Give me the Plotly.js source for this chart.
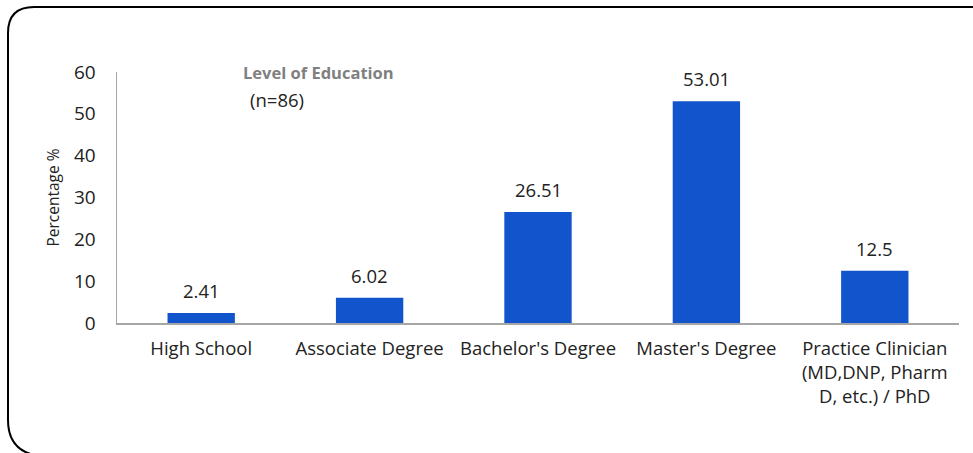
<!DOCTYPE html>
<html><head><meta charset="utf-8">
<script src="https://cdn.plot.ly/plotly-3.0.1.min.js"></script>
<style>html,body{margin:0;padding:0;background:#fff;}#chart{width:973px;height:453px;}</style>
</head><body><div id="chart"></div>
<script>
const categories = ["High School", "Associate Degree", "Bachelor's Degree", "Master's Degree", "Practice Clinician<br>(MD,DNP, Pharm<br>D, etc.) / PhD"];
const percentages = [2.41, 6.02, 26.51, 53.01, 12.5];
const valueLabels = ["2.41", "6.02", "26.51", "53.01", "12.5"];
const yTicks = [0, 10, 20, 30, 40, 50, 60];

const FONT = "'Open Sans', sans-serif";
const trace = {
  type: 'bar', x: categories, y: percentages,
  marker: {color: '#1254CC'}, hoverinfo: 'none'
};
const annotations = categories.map((c, i) => ({
  x: c, y: percentages[i], xref: 'x', yref: 'y', text: valueLabels[i],
  showarrow: false, yanchor: 'bottom', yshift: 8,
  font: {family: FONT, size: 18.5, color: '#222'}
}));
annotations.push({xref: 'paper', yref: 'paper', x: 0.239, y: 1.0, text: '<b>Level of Education</b>',
  showarrow: false, xanchor: 'center', yanchor: 'middle', font: {family: FONT, size: 16.5, color: '#808080'}});
annotations.push({xref: 'paper', yref: 'paper', x: 0.19, y: 0.89, text: '(n=86)',
  showarrow: false, xanchor: 'center', yanchor: 'middle', font: {family: FONT, size: 18.5, color: '#222'}});

// rounded frame (paper coords; plot area 842 x 251 px)
const px = v => (v - 117) / 842, py = v => (323 - v) / 251;
const framePath = `M ${px(34)} ${py(7)} L ${px(990)} ${py(7)} M ${px(8)} ${py(420)} L ${px(8)} ${py(33)} Q ${px(8)} ${py(7)} ${px(34)} ${py(7)} M ${px(8)} ${py(420)} Q ${px(8)} ${py(452)} ${px(40)} ${py(456)}`;

const layout = {
  width: 973, height: 453,
  margin: {l: 117, r: 14, t: 72, b: 130},
  paper_bgcolor: '#fff', plot_bgcolor: '#fff',
  bargap: 0.6, showlegend: false,
  font: {family: FONT, size: 18, color: '#222'},
  xaxis: {showline: true, linecolor: '#a6a6a6', linewidth: 1.5, showgrid: false, ticks: '',
          tickfont: {family: FONT, size: 18.5, color: '#222'}, ticklabelstandoff: 8, fixedrange: true},
  yaxis: {range: [0, 60], tickvals: yTicks, showline: true, linecolor: '#a6a6a6', linewidth: 1.5,
          showgrid: false, zeroline: false, ticks: '', tickfont: {family: FONT, size: 19, color: '#222'},
          ticklabelstandoff: 16,
          title: {text: 'Percentage %', font: {family: FONT, size: 15.5, color: '#222'}, standoff: 10}},
  annotations: annotations,
  shapes: [{type: 'path', xref: 'paper', yref: 'paper', path: framePath, line: {color: '#000', width: 2}}]
};
Plotly.newPlot('chart', [trace], layout, {displayModeBar: false, staticPlot: true});
</script></body></html>
